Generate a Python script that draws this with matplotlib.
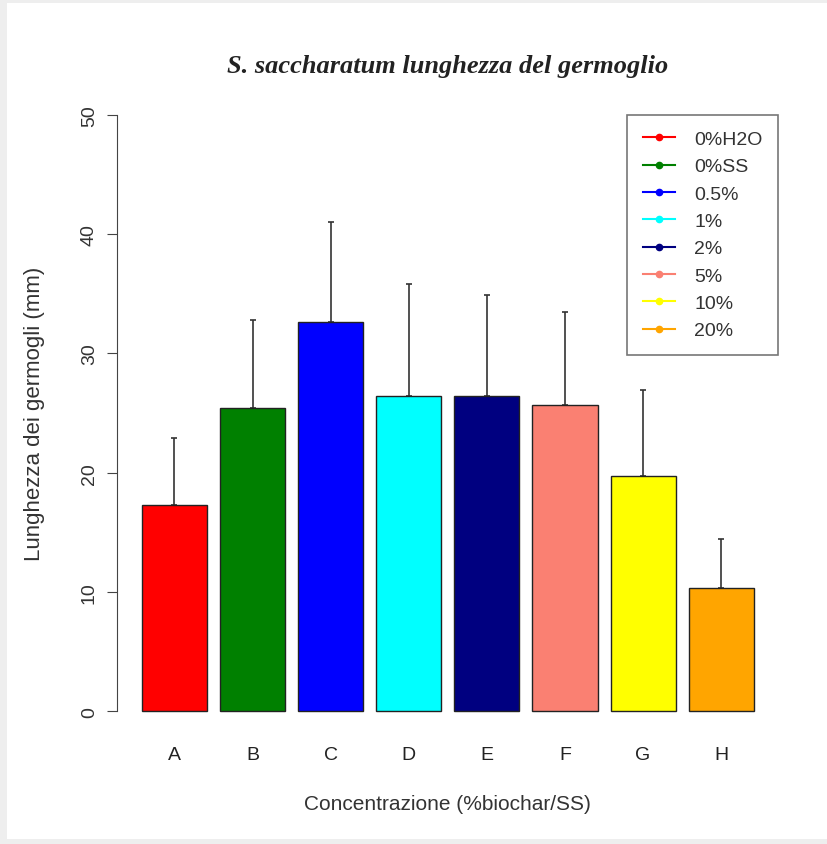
import matplotlib
matplotlib.use("Agg")
import matplotlib.pyplot as plt
from matplotlib.lines import Line2D
from matplotlib.patches import Rectangle
import numpy as np

# data
groups  = ["A", "B", "C", "D", "E", "F", "G", "H"]
labels  = ["0%H2O", "0%SS", "0.5%", "1%", "2%", "5%", "10%", "20%"]
means   = [17.3, 25.4, 32.6, 26.4, 26.4, 25.7, 19.7, 10.3]
sds     = [5.6, 7.4, 8.4, 9.4, 8.5, 7.8, 7.2, 4.1]
colors  = ["#FF0000", "#008000", "#0000FF", "#00FFFF",
           "#000080", "#FA8072", "#FFFF00", "#FFA500"]

FONT = "Liberation Sans"

fig = plt.figure(figsize=(8.27, 8.45), dpi=100)
fig.patch.set_facecolor("#eeeeee")
fig.add_artist(Rectangle((7 / 827, 5 / 845), 820 / 827, 836 / 845,
                         transform=fig.transFigure, facecolor="white",
                         edgecolor="none", zorder=0))

ax = fig.add_axes([0.142, 0.129, 0.799, 0.762])
ax.set_facecolor("none")

# R barplot layout: width 1, space 0.2
x = 0.7 + 1.2 * np.arange(len(groups))
ax.bar(x, means, width=1.0, color=colors, edgecolor="#222222",
       linewidth=1.0, zorder=2)
ax.errorbar(x, means, yerr=[np.zeros(len(sds)), sds], fmt="none",
            ecolor="#333333", elinewidth=1.2, capsize=2, capthick=1.2,
            zorder=1)

ax.set_xlim(-0.176, 9.976)
ax.set_ylim(-2, 52)

for s in ["top", "right", "bottom"]:
    ax.spines[s].set_visible(False)
ax.spines["left"].set_bounds(0, 50)
ax.spines["left"].set_color("#444444")

ax.set_yticks([0, 10, 20, 30, 40, 50])
ax.set_yticklabels(["0", "10", "20", "30", "40", "50"], rotation=90,
                   va="center", family=FONT, fontsize=14, color="#333333")
ax.tick_params(axis="y", length=7, color="#444444", pad=7)

ax.set_xticks(x)
ax.set_xticklabels(groups, family=FONT, fontsize=14, color="#222222")
ax.tick_params(axis="x", length=0, pad=8)

ax.set_ylabel("Lunghezza dei germogli (mm)", family=FONT, fontsize=16,
              color="#333333", labelpad=26)
ax.set_xlabel("Concentrazione (%biochar/SS)", family=FONT, fontsize=15,
              color="#333333", labelpad=22)
ax.set_title("S. saccharatum lunghezza del germoglio",
             family="Liberation Serif", style="italic", fontweight="bold",
             fontsize=19, color="#222222", pad=14)

handles = [Line2D([0], [0], color=c, marker="o", markersize=4.5, linewidth=1.5)
           for c in colors]
leg = ax.legend(handles, labels, loc="upper right",
                bbox_to_anchor=(9.976, 50), bbox_transform=ax.transData,
                frameon=True, fancybox=False, borderaxespad=0,
                prop={"family": FONT, "size": 14}, labelspacing=0.5,
                handlelength=1.65, handletextpad=1.0, borderpad=0.8)
leg.get_frame().set_edgecolor("#555555")
leg.get_frame().set_linewidth(1.2)
for t in leg.get_texts():
    t.set_color("#333333")

plt.savefig("out.png", dpi=100)
